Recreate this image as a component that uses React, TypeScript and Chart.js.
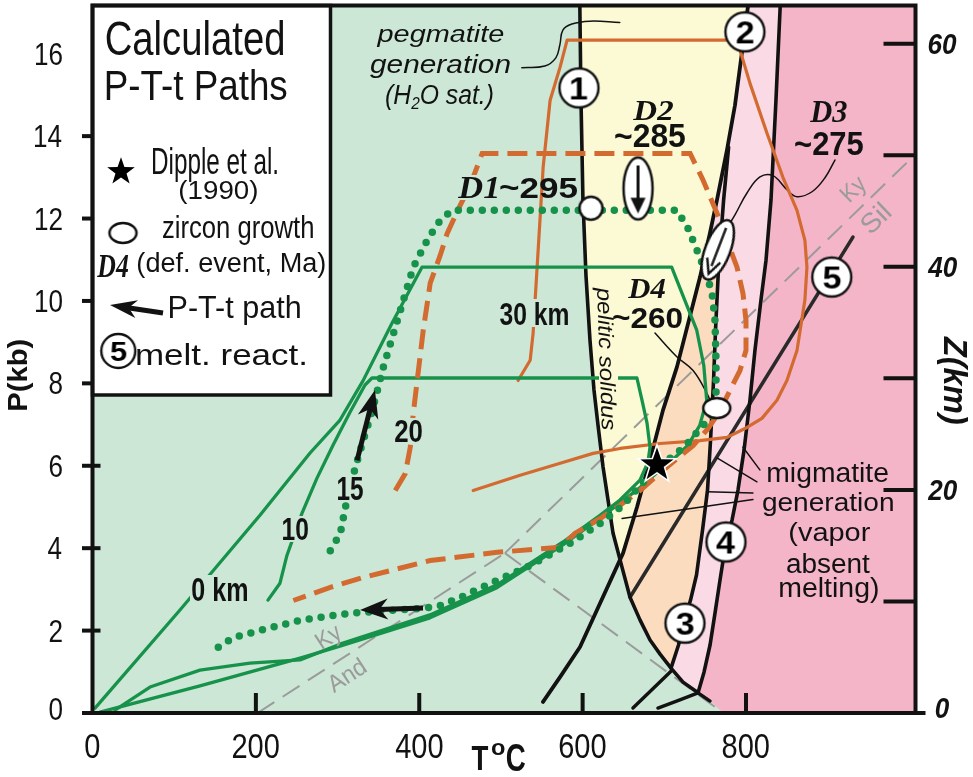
import React, { useEffect, useRef } from 'react';
import { Chart, registerables } from 'chart.js';

Chart.register(...registerables);

const SANS = '"Liberation Sans", Arial, Helvetica, sans-serif';
const SERIF = '"Liberation Serif", "Times New Roman", Times, serif';
const INK = '#121212';
const C_MINT = '#cce7d6';
const C_YELLOW = '#fcf9d5';
const C_PEACH = '#fbdcbf';
const C_LPINK = '#f9dae5';
const C_PINK = '#f4b5c8';
const C_GREEN = '#17924a';
const C_ORANGE = '#d36a30';
const C_GREY = '#9b9b9b';

// ---------- axes ----------
const T_MAX = 1007.5;
const P_MAX = 17.17;
const KM_PER_KB = 3.694;
const T_TICKS = [0, 200, 400, 600, 800];
const P_TICKS = [0, 2, 4, 6, 8, 10, 12, 14, 16];
const P_TICK_MARKS = [0, 2, 4, 6, 8, 10, 12, 14];
const Z_TICKS = [0, 10, 20, 30, 40, 50, 60];
const Z_LABELS = [0, 20, 40, 60];

// ---------- reaction curves  [T (°C), P (kb)] ----------
const SOLIDUS = [
  [596.5, 17.3], [598.0, 14.88], [600.4, 12.45], [604.1, 10.62], [609.0, 9.05], [613.9, 7.84],
  [618.8, 6.99], [625.0, 5.97], [631.1, 5.17], [637.2, 4.37], [648.2, 3.54], [658.0, 2.81],
  [670.2, 2.26], [682.5, 1.77], [694.8, 1.43], [708.2, 1.09], [722.9, 0.75], [741.3, 0.49],
];
const REACTION_2 = [
  [803.4, 17.3], [795.1, 16.04], [786.5, 14.75], [776.7, 13.66], [764.5, 12.45], [755.9, 11.65],
  [743.7, 10.58], [715.5, 8.4], [698.4, 7.35], [682.5, 6.14], [666.6, 5.0], [649.5, 3.88],
  [596.8, 1.6], [572.3, 0.87], [551.5, 0.27],
];
const REACTION_3 = [
  [778.7, 13.73], [772.6, 12.45], [766.4, 10.82], [762.7, 9.29], [760.3, 8.08], [756.6, 6.62],
  [752.9, 5.41], [746.8, 4.44], [739.4, 3.35], [732.1, 2.74], [723.5, 2.18], [717.4, 1.65], [708.2, 1.09],
];
const REACTION_4 = [
  [842.2, 17.3], [836.7, 14.88], [830.6, 12.45], [824.5, 10.99], [818.3, 10.02], [811.0, 8.81],
  [804.9, 7.6], [797.6, 6.38], [790.2, 5.41], [782.9, 4.68], [775.5, 4.15], [768.2, 3.23],
  [762.1, 2.43], [756.0, 1.65], [748.6, 0.99], [741.3, 0.49],
];
const REACTION_5 = [[930.9, 11.55], [658.0, 2.81]];
const SEG_B1 = [[661.6, 0.12], [708.5, 1.02]];
const SEG_B2 = [[692.2, 0.12], [719.1, 0.32], [741.3, 0.49]];
const SEG_B3 = [[741.3, 0.49], [756.0, 0.29]];
const SOLIDUS_X_R2 = [645.8, 3.71];

// Al2SiO5 triple point lines
const KY_AND = [[202, 0], [504.9, 3.88]];
const KY_SIL = [[504.9, 3.88], [1007.5, 13.56]];
const AND_SIL = [[504.9, 3.88], [772, 0]];

// ---------- calculated P-T-t paths ----------
const PATH_0KM = [
  [3.1, 0.12], [107.1, 2.5], [205, 4.8], [266.3, 6.31], [303, 7.11], [331.1, 8.06], [366.6, 9.46],
  [403.3, 10.82], [709, 10.82], [725, 10.02], [739.7, 9.29], [748.3, 8.44], [751.9, 7.59], [743.4, 6.98],
  [728.7, 6.49], [706.7, 6.08], [690.8, 5.83], [670.2, 5.47], [645.7, 5.1], [621.2, 4.73], [575.9, 4.08],
  [495.1, 3.04], [413.1, 2.31], [302.9, 1.62], [254.1, 1.33], [131.6, 0.66], [9.2, 0.02],
];
const PATH_10KM = [
  [214.8, 2.74], [229.5, 3.15], [238.1, 3.83], [256.5, 4.85], [274.8, 5.7], [294.4, 6.5], [315.2, 7.3],
  [333.6, 7.96], [342.1, 8.13], [666.5, 8.13], [672.6, 7.6], [678.8, 7.04], [682.5, 6.45], [680, 6.09],
  [670.2, 5.65], [645.7, 5.17], [621.2, 4.8], [575.9, 4.15], [495.1, 3.11], [413.1, 2.38], [302.9, 1.67],
  [254.1, 1.29], [192.8, 1.21], [131.6, 1.04], [70.4, 0.63], [27.5, 0.07],
];
const PATH_15KM = [
  [291.1, 3.94], [303.4, 4.36], [309.5, 4.99], [321.7, 5.96], [331.5, 6.62], [342.5, 7.34], [356, 8.39],
  [374.3, 9.6], [392.7, 10.82], [411, 11.52], [425.7, 11.96], [440.4, 12.2], [715.6, 12.2], [729, 11.76],
  [740, 11.23], [749.8, 10.74], [758.4, 10.21], [762, 9.53], [763.3, 8.56], [763.3, 7.71], [758.4, 7.22],
  [743.7, 6.9], [725.4, 6.47], [707, 6.18], [691, 5.93], [670.3, 5.52], [649.5, 5.04], [621.4, 4.6],
  [584.7, 4.12], [535.8, 3.58], [486.8, 3.14], [450, 2.8], [425.7, 2.61], [405, 2.54], [364.5, 2.49],
  [327.8, 2.44], [303.4, 2.39], [254.4, 2.25], [214, 2.05], [172.5, 1.83], [148, 1.52],
];
const PATH_20KM = [
  [370.6, 5.4], [382.9, 5.81], [389, 6.45], [392.7, 7.27], [397.5, 8.07], [404.9, 9.29], [413.4, 10.43],
  [425.7, 11.11], [434.2, 11.64], [450.1, 12.32], [462.4, 12.81], [477, 13.58], [731.6, 13.58],
  [747.5, 12.93], [764.5, 12.13], [776.7, 11.47], [789, 10.82], [796.3, 10.18], [800, 9.53], [800, 8.8],
  [792.6, 8.31], [780.4, 7.83], [768.2, 7.34], [753.5, 6.9], [735.2, 6.49], [713.1, 6.13], [694.8, 5.83],
  [670.3, 5.4], [645.9, 5.04], [621.4, 4.72], [590.8, 4.36], [572.5, 4.02], [495.4, 3.9], [413.4, 3.7],
  [331.5, 3.29], [291.1, 3.05], [245.9, 2.73],
];
const PATH_30KM = [
  [521, 8.07], [535.8, 8.56], [539.4, 9.22], [544.3, 10.82], [551.7, 13.25], [560.2, 14.87], [572.5, 15.68],
  [581, 16.33], [789, 16.33], [804.9, 15.28], [825.7, 14.07], [845.2, 13.0], [862.4, 12.2], [872.1, 11.47],
  [874.6, 10.82], [872.1, 10.02], [862.4, 8.8], [850.1, 8.07], [837.9, 7.59], [819.5, 7.15], [801.2, 6.93],
  [776.7, 6.69], [743.7, 6.61], [694.8, 6.54], [645.9, 6.42], [612.8, 6.3], [572.5, 6.06], [523.5, 5.77],
  [466, 5.4],
];

// ---------- markers & arrows ----------
const DIPPLE_1990 = [[691, 6.07]];
const ZIRCON_D1 = [[610.2, 12.25]];
const ZIRCON_D2 = [[667.8, 12.73]];
const ZIRCON_D3 = [[765.4, 11.24]];
const ZIRCON_D4 = [[764.2, 7.4]];
const REACTION_LABEL_POS = [[595.5, 15.17], [798.7, 16.53], [725.3, 2.18], [775.5, 4.15], [905, 10.58]];
const REACTION_LABELS = ['1', '2', '3', '4', '5'];
const ARROW_UP = [[323.9, 6.13], [345.8, 7.84]];
const ARROW_LEFT = [[404.6, 2.55], [327.5, 2.5]];

// ---------- leader lines ----------
const LEAD_PEG = [[525.6, 15.66], [553.7, 15.7], [567.2, 15.9], [572.1, 16.21], [575.8, 16.57], [586.8, 16.72], [608.8, 16.79], [645.5, 16.76]];
const LEAD_D3 = [[908.9, 13.42], [896.7, 12.99], [880.8, 12.65], [862.4, 12.53], [850.1, 12.7], [833, 13.04], [817.1, 13.01], [801.2, 12.62], [786.5, 12.09], [776.7, 11.77]];
const LEAD_D4 = [[688.6, 9.22], [715.6, 8.64], [735.2, 8.31], [752.3, 7.75], [759.6, 7.41]];
const LEAD_MIG_1 = [[817, 5.9], [796.3, 6.45]];
const LEAD_MIG_2 = [[813.4, 5.61], [764.5, 6.19]];
const LEAD_MIG_3 = [[808.5, 5.34], [752.3, 5.37]];
const LEAD_MIG_4 = [[808.5, 5.18], [648.3, 4.72]];

// ---------- field polygons built from the curves ----------
const PX = SOLIDUS_X_R2[1];
const YELLOW = [
  ...SOLIDUS.filter((q) => q[1] > PX), SOLIDUS_X_R2,
  ...REACTION_2.filter((q) => q[1] > PX).reverse(),
];
const LIGHT_PINK = [
  ...REACTION_2.filter((q) => q[1] > PX), SOLIDUS_X_R2,
  ...SOLIDUS.filter((q) => q[1] < PX), ...REACTION_4.slice().reverse(),
];
const PEACH = [
  ...REACTION_2.filter((q) => q[1] > PX && q[1] < 10.7), SOLIDUS_X_R2,
  ...SOLIDUS.filter((q) => q[1] < PX && q[1] >= 1.09), ...REACTION_3.filter((q) => q[1] < 11).reverse(),
];
const DARK_PINK = [
  ...REACTION_4, ...SEG_B3.slice(1), AND_SIL[1], [T_MAX + 20, 0], [T_MAX + 20, 17.5], [REACTION_4[0][0], 17.5],
];

// ---------- drawing helpers ----------
type F = { style?: string; weight?: string; family?: string };
const fontStr = (f: F, s: number) => `${f.style || 'normal'} ${f.weight || 'normal'} ${s}px ${f.family || SANS}`;

function fitText(ctx: CanvasRenderingContext2D, text: string, cx: number, cy: number, w: number, h: number, f: F = {}, color = INK, rot = 0) {
  ctx.save();
  ctx.font = fontStr(f, 100);
  const m = ctx.measureText(text);
  const iw = m.actualBoundingBoxLeft + m.actualBoundingBoxRight;
  const ih = m.actualBoundingBoxAscent + m.actualBoundingBoxDescent;
  const size = (100 * h) / ih;
  const k = size / 100;
  const sx = w / (iw * k);
  const icx = ((m.actualBoundingBoxRight - m.actualBoundingBoxLeft) / 2) * k;
  const icy = ((m.actualBoundingBoxDescent - m.actualBoundingBoxAscent) / 2) * k;
  ctx.translate(cx, cy);
  if (rot) ctx.rotate(rot);
  ctx.scale(sx, 1);
  ctx.font = fontStr(f, size);
  ctx.textAlign = 'left';
  ctx.textBaseline = 'alphabetic';
  ctx.fillStyle = color;
  ctx.fillText(text, -icx, -icy);
  ctx.restore();
}

function label(ctx: CanvasRenderingContext2D, text: string, x: number, y: number, size: number, sx: number, f: F, align: string, color = INK) {
  ctx.save();
  ctx.font = fontStr(f, size);
  const m = ctx.measureText(text);
  const l = -m.actualBoundingBoxLeft;
  const r = m.actualBoundingBoxRight;
  const cy = (m.actualBoundingBoxDescent - m.actualBoundingBoxAscent) / 2;
  const ox = align === 'left' ? -l : align === 'right' ? -r : -(l + r) / 2;
  ctx.translate(x, y);
  ctx.scale(sx, 1);
  ctx.fillStyle = color;
  ctx.textAlign = 'left';
  ctx.textBaseline = 'alphabetic';
  ctx.fillText(text, ox, -cy);
  ctx.restore();
}

function drawRuns(ctx: CanvasRenderingContext2D, parts: any[], x0: number, x1: number, baseline: number, size: number, f: F, color = INK) {
  ctx.save();
  const widths = parts.map(([t, k]) => { ctx.font = fontStr(f, size * k); return ctx.measureText(t).width; });
  const total = widths.reduce((a: number, b: number) => a + b, 0);
  ctx.translate(x0, baseline);
  ctx.scale((x1 - x0) / total, 1);
  ctx.fillStyle = color;
  ctx.textAlign = 'left';
  ctx.textBaseline = 'alphabetic';
  let x = 0;
  parts.forEach(([t, k, dy], i) => { ctx.font = fontStr(f, size * k); ctx.fillText(t, x, dy); x += widths[i]; });
  ctx.restore();
}

function drawArrow(ctx: CanvasRenderingContext2D, x1: number, y1: number, x2: number, y2: number, shaft: number, headL: number, headW: number) {
  const dx = x2 - x1, dy = y2 - y1, len = Math.hypot(dx, dy);
  const ux = dx / len, uy = dy / len, nx = -uy, ny = ux;
  const bx = x2 - ux * headL, by = y2 - uy * headL;
  const mx = x2 - ux * headL * 0.7, my = y2 - uy * headL * 0.7;
  ctx.save();
  ctx.strokeStyle = INK;
  ctx.fillStyle = INK;
  ctx.lineWidth = shaft;
  ctx.lineCap = 'butt';
  ctx.beginPath();
  ctx.moveTo(x1, y1);
  ctx.lineTo(mx + ux, my + uy);
  ctx.stroke();
  ctx.beginPath();
  ctx.moveTo(x2, y2);
  ctx.lineTo(bx + (nx * headW) / 2, by + (ny * headW) / 2);
  ctx.lineTo(mx, my);
  ctx.lineTo(bx - (nx * headW) / 2, by - (ny * headW) / 2);
  ctx.closePath();
  ctx.fill();
  ctx.restore();
}

function mk(w: number, h: number, draw: (c: CanvasRenderingContext2D) => void) {
  const c = document.createElement('canvas');
  c.width = w;
  c.height = h;
  draw(c.getContext('2d') as CanvasRenderingContext2D);
  return c;
}

function starImg(R: number) {
  const S = Math.ceil(2 * R + 6);
  return mk(S, S, (c) => {
    const cx = S / 2, cy = S / 2 + 0.095 * R;
    c.beginPath();
    for (let i = 0; i < 10; i++) {
      const a = -Math.PI / 2 + (i * Math.PI) / 5;
      const rr = i % 2 === 0 ? R : R * 0.4;
      c.lineTo(cx + rr * Math.cos(a), cy + rr * Math.sin(a));
    }
    c.closePath();
    c.fillStyle = '#000';
    c.fill();
    c.lineWidth = 1.6;
    c.strokeStyle = '#fff';
    c.stroke();
  });
}

function ellipseImg(rx: number, ry: number, arrow: string) {
  const W = Math.ceil(2 * rx + 6), H = Math.ceil(2 * ry + 6);
  return mk(W, H, (c) => {
    const cx = W / 2, cy = H / 2;
    c.beginPath();
    c.ellipse(cx, cy, rx, ry, 0, 0, Math.PI * 2);
    c.fillStyle = '#fff';
    c.fill();
    c.lineWidth = 2.5;
    c.strokeStyle = INK;
    c.stroke();
    if (arrow === 'solid') {
      c.lineWidth = 3;
      c.beginPath(); c.moveTo(cx, cy - ry + 8); c.lineTo(cx, cy + ry * 0.35); c.stroke();
      c.beginPath(); c.moveTo(cx - 7.5, cy + ry * 0.3); c.lineTo(cx + 7.5, cy + ry * 0.3); c.lineTo(cx, cy + ry - 6); c.closePath();
      c.fillStyle = INK; c.fill();
    } else if (arrow === 'hollow') {
      c.lineWidth = 2.4;
      c.beginPath(); c.moveTo(cx, cy - ry + 8); c.lineTo(cx, cy + ry * 0.55); c.stroke();
      c.beginPath(); c.moveTo(cx - 7, cy + ry * 0.35); c.lineTo(cx, cy + ry - 6); c.lineTo(cx + 7, cy + ry * 0.35); c.stroke();
    }
  });
}

function circleImg(r: number, bw = 2.5) {
  const S = Math.ceil(2 * r + 6);
  return mk(S, S, (c) => {
    c.beginPath(); c.arc(S / 2, S / 2, r, 0, Math.PI * 2);
    c.fillStyle = '#fff'; c.fill();
    c.lineWidth = bw; c.strokeStyle = INK; c.stroke();
  });
}

function numberImg(n: string, r: number, size: number) {
  const S = Math.ceil(2 * r + 6);
  return mk(S, S, (c) => {
    c.beginPath(); c.arc(S / 2, S / 2, r, 0, Math.PI * 2);
    c.fillStyle = '#fff'; c.fill();
    c.lineWidth = 2.4; c.strokeStyle = INK; c.stroke();
    label(c, n, S / 2, S / 2 + 0.5, size, 1.1, { weight: 'bold' }, 'center', '#000');
  });
}

const xy = (a: number[][]) => a.map(([x, y]) => ({ x, y }));
const area = (a: number[][], color: string, order: number) => ({
  data: xy(a), fill: 'shape', backgroundColor: color, borderColor: 'rgba(0,0,0,0)', borderWidth: 0, pointRadius: 0, order, yAxisID: 'y',
});
const curve = (a: number[][], color: string, width: number, order: number, extra: any = {}) => ({
  data: xy(a), fill: false, borderColor: color, borderWidth: width, pointRadius: 0, borderCapStyle: 'round', borderJoinStyle: 'round', order, yAxisID: 'y', ...extra,
});
const marker = (a: number[][], style: any, order: number, extra: any = {}) => ({
  data: xy(a), showLine: false, pointStyle: style, pointRadius: 12, order, yAxisID: 'y', ...extra,
});

export default function App() {
  const ref = useRef<HTMLCanvasElement>(null);

  useEffect(() => {
    const canvas = ref.current;
    if (!canvas) return;

    const STAR = starImg(20);
    const STAR_LEGEND = starImg(17);
    const ELL_D2 = ellipseImg(14.5, 31, 'solid');
    const ELL_D3 = ellipseImg(12.5, 31.5, 'hollow');
    const ELL_D4 = ellipseImg(13.5, 10, 'none');
    const ZIRC = circleImg(11.5);
    const NUMS = REACTION_LABELS.map((n) => numberImg(n, 19.5, 31));
    const NUM_LEGEND = numberImg('5', 17, 28);

    const datasets: any[] = [
      area(DARK_PINK, C_PINK, 100),
      area(LIGHT_PINK, C_LPINK, 99),
      area(PEACH, C_PEACH, 98),
      area(YELLOW, C_YELLOW, 97),
      curve(KY_AND, C_GREY, 2, 90, { borderDash: [20, 10], borderCapStyle: 'butt' }),
      curve(KY_SIL, C_GREY, 2, 90, { borderDash: [20, 10], borderCapStyle: 'butt' }),
      curve(AND_SIL, C_GREY, 2, 90, { borderDash: [20, 10], borderCapStyle: 'butt' }),
      curve(SOLIDUS, INK, 3.6, 80),
      curve(REACTION_2, INK, 3.8, 80),
      curve(REACTION_3, INK, 3.6, 80),
      curve(REACTION_4, INK, 3.6, 80),
      curve(REACTION_5, '#2a2a2a', 3.6, 80),
      curve(SEG_B1, INK, 3.4, 80),
      curve(SEG_B2, INK, 3.4, 80),
      curve(SEG_B3, INK, 3.4, 80),
      curve(LEAD_PEG, INK, 1.5, 75, { tension: 0.4 }),
      curve(LEAD_D3, INK, 1.5, 75, { tension: 0.4 }),
      curve(LEAD_D4, INK, 1.5, 75, { tension: 0.4 }),
      curve(LEAD_MIG_1, INK, 1.5, 75),
      curve(LEAD_MIG_2, INK, 1.5, 75),
      curve(LEAD_MIG_3, INK, 1.5, 75),
      curve(LEAD_MIG_4, INK, 1.5, 75),
      curve(PATH_30KM, C_ORANGE, 3.2, 60),
      curve(PATH_0KM, C_GREEN, 3.3, 55),
      curve(PATH_10KM, C_GREEN, 3.3, 55),
      curve(PATH_20KM, C_ORANGE, 5, 50, { borderDash: [20, 9], borderCapStyle: 'butt', borderJoinStyle: 'miter' }),
      curve(PATH_15KM, C_GREEN, 7.5, 45, { borderDash: [0, 12] }),
      marker(ZIRCON_D1, ZIRC, 10),
      marker(ZIRCON_D2, ELL_D2, 10),
      marker(ZIRCON_D3, ELL_D3, 10, { pointRotation: 21 }),
      marker(ZIRCON_D4, ELL_D4, 10),
      marker(REACTION_LABEL_POS, NUMS, 8),
      marker(DIPPLE_1990, STAR, 5),
    ];

    const background = {
      id: 'fieldBackground',
      beforeDatasetsDraw(chart: any) {
        const { ctx, chartArea: a } = chart;
        ctx.save();
        ctx.fillStyle = C_MINT;
        ctx.fillRect(a.left, a.top, a.right - a.left, a.bottom - a.top);
        ctx.restore();
      },
    };

    const overlay = {
      id: 'overlay',
      afterDatasetsDraw(chart: any) {
        const ctx: CanvasRenderingContext2D = chart.ctx;
        const xs = chart.scales.x, ys = chart.scales.y, zs = chart.scales.z;
        const { left, right, top, bottom } = chart.chartArea;
        const P = (p: number[]) => [xs.getPixelForValue(p[0]), ys.getPixelForValue(p[1])];

        // arrows on paths
        [ARROW_UP, ARROW_LEFT].forEach((a) => {
          const [x1, y1] = P(a[0]);
          const [x2, y2] = P(a[1]);
          drawArrow(ctx, x1, y1, x2, y2, 5, 28, 21);
        });

        // label knock-outs
        ctx.save();
        ctx.fillStyle = C_MINT;
        ctx.fillRect(498, 299, 72, 28);
        ctx.fillRect(190, 575, 59, 29);
        ctx.fillRect(281, 516, 29, 26);
        ctx.fillRect(336, 475, 29, 27);
        ctx.fillRect(393, 418, 31, 26);
        ctx.fillRect(456, 175, 43, 25);
        ctx.fillStyle = C_YELLOW;
        ctx.fillRect(599, 371, 19, 14);
        ctx.restore();

        const IT = { style: 'italic' };
        const B = { weight: 'bold' };
        const SBI = { family: SERIF, style: 'italic', weight: 'bold' };
        const BI = { style: 'italic', weight: 'bold' };

        fitText(ctx, 'pegmatite', 440, 36, 126.7, 22.5, IT);
        fitText(ctx, 'generation', 440, 65.8, 140, 25, IT);
        drawRuns(ctx, [['(H', 1, 0], ['2', 0.62, 5], ['O sat.)', 1, 0]], 385, 494, 104, 27, IT);
        fitText(ctx, 'D2', 653, 110, 40, 20, SBI);
        fitText(ctx, '~285', 650, 135, 70, 24, B);
        fitText(ctx, 'D3', 828.5, 112.5, 37, 21, SBI);
        fitText(ctx, '~275', 829, 143.5, 68, 23, B);
        fitText(ctx, 'D1', 477.5, 187.5, 39, 21, SBI);
        fitText(ctx, '~295', 538.5, 187.5, 77, 21, B);
        fitText(ctx, 'D4', 646.5, 288, 37, 20, SBI);
        fitText(ctx, '~260', 647.5, 317.5, 69, 21, B);
        fitText(ctx, '30 km', 534, 313.5, 68, 23, B);
        fitText(ctx, 'pelitic solidus', 605, 358.5, 143, 20, IT, INK, (88 * Math.PI) / 180);
        fitText(ctx, '0 km', 219.5, 589, 55, 25, B);
        fitText(ctx, '10', 295.5, 529, 25, 22, B);
        fitText(ctx, '15', 350.5, 488.5, 25, 23, B);
        fitText(ctx, '20', 408.5, 431, 27, 22, B);
        fitText(ctx, 'migmatite', 828, 475, 120, 26);
        fitText(ctx, 'generation', 828, 504, 130, 24);
        fitText(ctx, '(vapor', 830, 534.5, 80, 25);
        fitText(ctx, 'absent', 828.5, 562.5, 83, 21);
        fitText(ctx, 'melting)', 829, 590, 98, 26);
        fitText(ctx, 'Ky', 330, 638, 24, 22, {}, C_GREY, (-33 * Math.PI) / 180);
        fitText(ctx, 'And', 346, 675, 40, 18, {}, C_GREY, (-33 * Math.PI) / 180);
        fitText(ctx, 'Ky', 855, 190, 24, 22, {}, C_GREY, (-44 * Math.PI) / 180);
        fitText(ctx, 'Sil', 875, 218, 29, 20, {}, C_GREY, (-44 * Math.PI) / 180);

        // tick marks
        ctx.save();
        ctx.strokeStyle = INK;
        ctx.lineWidth = 4;
        ctx.lineCap = 'butt';
        const seg = (a: number, b: number, c: number, d: number) => { ctx.beginPath(); ctx.moveTo(a, b); ctx.lineTo(c, d); ctx.stroke(); };
        P_TICK_MARKS.forEach((v) => { const y = ys.getPixelForValue(v); seg(left - 10.5, y, left + 8, y); });
        T_TICKS.filter((v) => v > 0).forEach((v) => { const x = xs.getPixelForValue(v); seg(x, bottom, x, bottom - 20); });
        Z_TICKS.forEach((v) => { const y = zs.getPixelForValue(v); seg(right - 32, y, v === 0 ? right + 10 : right, y); });
        ctx.restore();

        // legend box
        const bx1 = 330.5, by1 = 395;
        ctx.save();
        ctx.fillStyle = '#fff';
        ctx.fillRect(left, top, bx1 - left, by1 - top);
        ctx.lineWidth = 3.5;
        ctx.strokeStyle = INK;
        ctx.strokeRect(left, top, bx1 - left, by1 - top);
        ctx.restore();
        fitText(ctx, 'Calculated', 195, 38, 176.7, 35);
        fitText(ctx, 'P-T-t Paths', 196.7, 84.2, 180, 31.7);
        ctx.drawImage(STAR_LEGEND, 121 - STAR_LEGEND.width / 2, 170 - STAR_LEGEND.height / 2);
        fitText(ctx, 'Dipple et al.', 215, 165, 124, 34);
        fitText(ctx, '(1990)', 218.5, 192, 77, 24);
        ctx.drawImage(ELL_D4, 123 - ELL_D4.width / 2, 233 - ELL_D4.height / 2);
        fitText(ctx, 'zircon growth', 238, 230, 150, 30);
        fitText(ctx, 'D4', 112.5, 266, 31, 22, SBI);
        fitText(ctx, '(def. event, Ma)', 231.5, 265, 187, 26.7);
        drawArrow(ctx, 163, 313, 110, 305, 5, 27, 18);
        fitText(ctx, 'P-T-t path', 235, 310, 130, 30);
        ctx.drawImage(NUM_LEGEND, 118.3 - NUM_LEGEND.width / 2, 351 - NUM_LEGEND.height / 2);
        fitText(ctx, 'melt. react.', 221, 354, 168, 22);

        // frame
        ctx.save();
        ctx.lineWidth = 4;
        ctx.strokeStyle = INK;
        ctx.strokeRect(left, top, right - left, bottom - top);
        ctx.restore();

        // tick labels
        P_TICKS.forEach((v) => { const y = ys.getPixelForValue(v); label(ctx, String(v), 62, v === 0 ? y - 4.5 : y, 30.7, 0.85, {}, 'right'); });
        T_TICKS.forEach((v) => { const x = xs.getPixelForValue(v); label(ctx, String(v), x, 745.5, 35, 0.83, {}, 'center'); });
        Z_LABELS.forEach((v) => { const y = zs.getPixelForValue(v); label(ctx, String(v), 942.5, v === 0 ? y - 5.5 : y, 30.3, 0.86, BI, 'center'); });

        // axis titles
        fitText(ctx, 'P(kb)', 20, 375, 70, 26, B, INK, -Math.PI / 2);
        fitText(ctx, 'Z(km)', 952.5, 380, 88, 32, BI, INK, Math.PI / 2);
        fitText(ctx, 'T', 480, 757.5, 16.6, 25, B);
        fitText(ctx, 'o', 498.3, 749, 13, 12, B);
        fitText(ctx, 'C', 516, 757.5, 18.3, 27, B);
      },
    };

    const chart = new Chart(canvas, {
      type: 'line',
      data: { datasets },
      options: {
        animation: false,
        responsive: false,
        devicePixelRatio: 1,
        events: [],
        layout: { autoPadding: false, padding: { left: 92.5, right: 57.5, top: 5.5, bottom: 64 } },
        scales: {
          x: { type: 'linear', min: 0, max: T_MAX, display: false },
          y: { type: 'linear', min: 0, max: P_MAX, display: false },
          z: { type: 'linear', axis: 'y', position: 'right', min: 0, max: P_MAX * KM_PER_KB, display: false },
        },
        plugins: { legend: { display: false }, tooltip: { enabled: false } },
        elements: { point: { radius: 0 }, line: { tension: 0 } },
      } as any,
      plugins: [background, overlay],
    } as any);

    return () => chart.destroy();
  }, []);

  return (
    <div style={{ position: 'fixed', left: 0, top: 0, width: 973, height: 777, background: '#fff' }}>
      <canvas ref={ref} width={973} height={777} style={{ display: 'block', width: 973, height: 777 }} />
    </div>
  );
}
